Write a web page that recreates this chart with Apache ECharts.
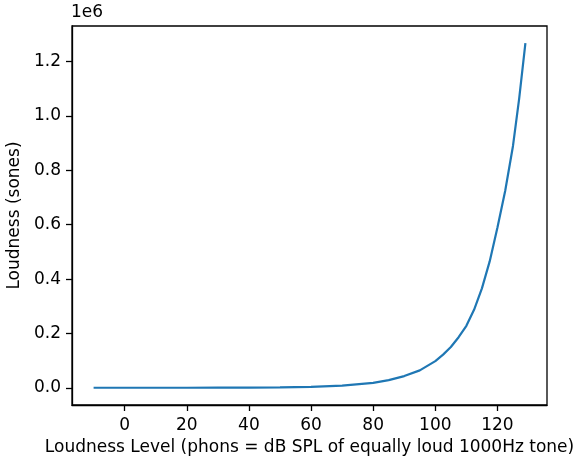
<!DOCTYPE html>
<html>
<head>
<meta charset="utf-8">
<script src="https://cdn.jsdelivr.net/npm/echarts@6/dist/echarts.min.js"></script>
<style>
html, body { margin: 0; padding: 0; background: #fff; }
#chart { width: 575px; height: 457px; }
</style>
</head>
<body>
<div id="chart"></div>
<script>
// loudness level (phons) and loudness (sones)
var phons = [-10, 0, 10, 20, 30, 40, 50, 60, 70, 80, 85, 90, 95, 100, 102.5, 105, 107.5, 110, 112.5, 115, 117.5, 120, 122.5, 125, 127, 129];
var sones = [7, 18, 42, 100, 240, 570, 1400, 3200, 7700, 18000, 28000, 43000, 64000, 98000, 122000, 150000, 186000, 228000, 288000, 366000, 465000, 590000, 725000, 890000, 1065000, 1268000];
var xTicks = [0, 20, 40, 60, 80, 100, 120];
var yTicks = [0, 200000, 400000, 600000, 800000, 1000000, 1200000];

var font = 'DejaVu Sans';
var fs = 17;
var pts = [];
for (var i = 0; i < phons.length; i++) {
	pts.push([phons[i], sones[i]]);
}

var chart = echarts.init(document.getElementById('chart'), null, { renderer: 'canvas' });
chart.setOption({
	animation: false,
	grid: {
		left: 72, top: 26, right: 28, bottom: 52,
		outerBoundsMode: 'none',
		containLabel: false,
		show: true, borderColor: '#000', borderWidth: 1.3, backgroundColor: 'transparent'
	},
	xAxis: {
		type: 'value',
		min: -16.95,
		max: 135.95,
		name: 'Loudness Level (phons = dB SPL of equally loud 1000Hz tone)',
		nameLocation: 'middle',
		nameGap: 34,
		nameTextStyle: { fontFamily: font, fontSize: fs, color: '#000' },
		axisLine: { show: true, onZero: false, lineStyle: { color: '#000', width: 1.3 } },
		axisTick: { show: true, inside: false, length: 6, customValues: xTicks, lineStyle: { color: '#000', width: 1.3 } },
		axisLabel: { margin: 12, customValues: xTicks, fontFamily: font, fontSize: fs, color: '#000' },
		splitLine: { show: false }
	},
	yAxis: {
		type: 'value',
		min: -63400,
		max: 1331400,
		name: 'Loudness (sones)',
		nameLocation: 'middle',
		nameGap: 47,
		nameTextStyle: { fontFamily: font, fontSize: fs, color: '#000' },
		axisLine: { show: true, onZero: false, lineStyle: { color: '#000', width: 1.3 } },
		axisTick: { show: true, inside: false, length: 6, customValues: yTicks, lineStyle: { color: '#000', width: 1.3 } },
		axisLabel: {
			margin: 11, customValues: yTicks, fontFamily: font, fontSize: fs, color: '#000',
			formatter: function (v) { return (v / 1e6).toFixed(1); }
		},
		splitLine: { show: false }
	},
	graphic: [{
		type: 'text',
		left: 71,
		top: 4,
		style: { text: '1e6', fontFamily: font, fontSize: fs, fill: '#000' }
	}],
	series: [{
		type: 'line',
		data: pts,
		showSymbol: false,
		smooth: false,
		lineStyle: { color: '#1f77b4', width: 2.2 }
	}]
});
</script>
</body>
</html>
